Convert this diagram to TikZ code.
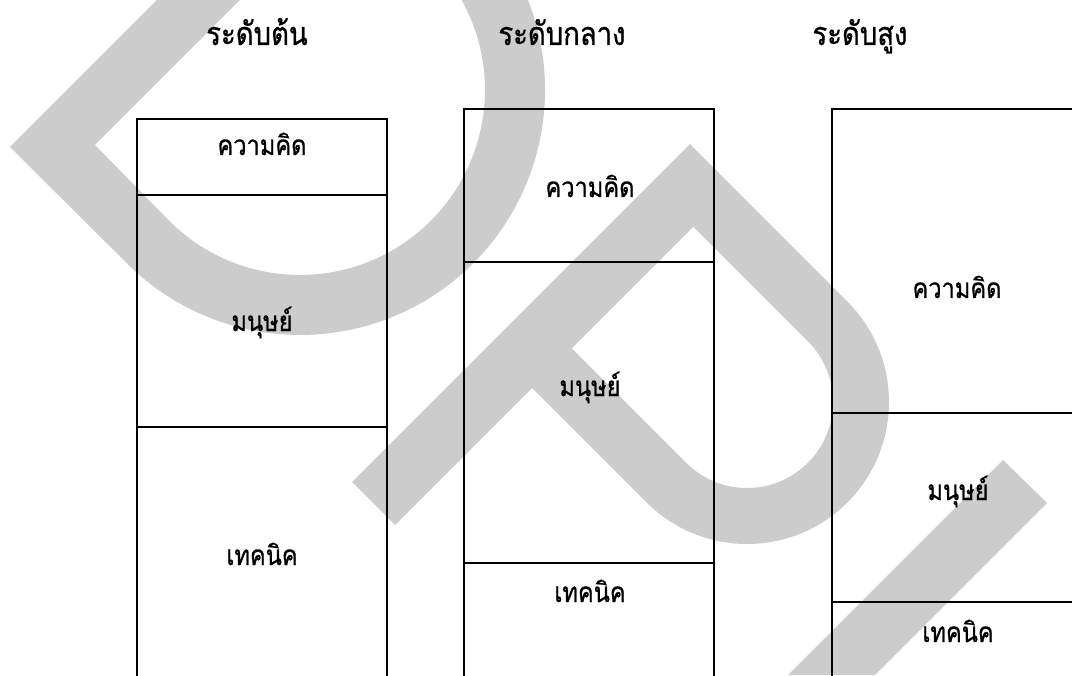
\documentclass[tikz,border=0pt]{standalone}
\usepackage{fontspec}
\newfontfamily\thaifont[Script=Thai, FakeStretch=0.85, FakeBold=0.8]{Loma}
\definecolor{markgray}{RGB}{204,204,204}
\tikzset{
	box/.style={line width=0.6pt},
	hdr/.style={font=\thaifont\fontsize{9.2}{11}\selectfont, anchor=base, inner sep=0pt},
	lbl/.style={font=\thaifont\fontsize{7.9}{10}\selectfont, anchor=base, inner sep=0pt}
}

\begin{document}
\begin{tikzpicture}
		\clip (0,0) rectangle (10.72,6.75);
		\fill[white] (0,0) rectangle (10.72,6.75);
		%Wasserzeichen
		\fill[markgray] (1.57,6.75) -- (0.10,5.28) -- (1.268,4.118)
			arc[start angle=-135, end angle=21.5, radius=2.45] -- (4.616,6.75)
			arc[start angle=29.1, end angle=-135, radius=1.85] -- (0.95,5.30) -- (2.40,6.75) -- cycle;
		\fill[markgray, even odd rule] (3.52,1.93) -- (6.899,5.309) -- (8.474,3.734)
			arc[start angle=45, end angle=-135, radius=1.42] -- (5.321,2.871) -- (3.95,1.50) -- cycle
			(6.933,4.483) -- (8.078,3.338) arc[start angle=45, end angle=-135, radius=0.86] -- (5.717,3.267) -- cycle;
		\fill[markgray] (10.03,2.15) -- (10.47,1.72) -- (8.75,0) -- (7.88,0) -- cycle;
		%Kaesten zeichnen
		\foreach \xl/\top/\da/\db in {1.37/5.56/4.80/2.48, 4.64/5.66/4.13/1.12, 8.32/5.66/2.62/0.73}
		{
			\draw[box] (\xl,-0.1) rectangle (\xl+2.5,\top);
			\draw[box] (\xl,\da) -- (\xl+2.5,\da);
			\draw[box] (\xl,\db) -- (\xl+2.5,\db);
		}
		%Ueberschriften
		\node[hdr] (hdrlow) at (2.57,6.30) {ระดับต้น};
		\node[hdr] (hdrmid) at (5.62,6.30) {ระดับกลาง};
		\node[hdr] (hdrtop) at (8.60,6.30) {ระดับสูง};
		%Beschriftungen
		\node[lbl] (ideaA) at (2.62,5.20) {ความคิด};
		\node[lbl] (humanA) at (2.62,3.44) {มนุษย์};
		\node[lbl] (techA) at (2.62,1.10) {เทคนิค};
		\node[lbl] (ideaB) at (5.90,4.78) {ความคิด};
		\node[lbl] (humanB) at (5.90,2.79) {มนุษย์};
		\node[lbl] (techB) at (5.90,0.73) {เทคนิค};
		\node[lbl] (ideaC) at (9.57,3.77) {ความคิด};
		\node[lbl] (humanC) at (9.58,1.75) {มนุษย์};
		\node[lbl] (techC) at (9.58,0.33) {เทคนิค};
	\end{tikzpicture}
\end{document}
